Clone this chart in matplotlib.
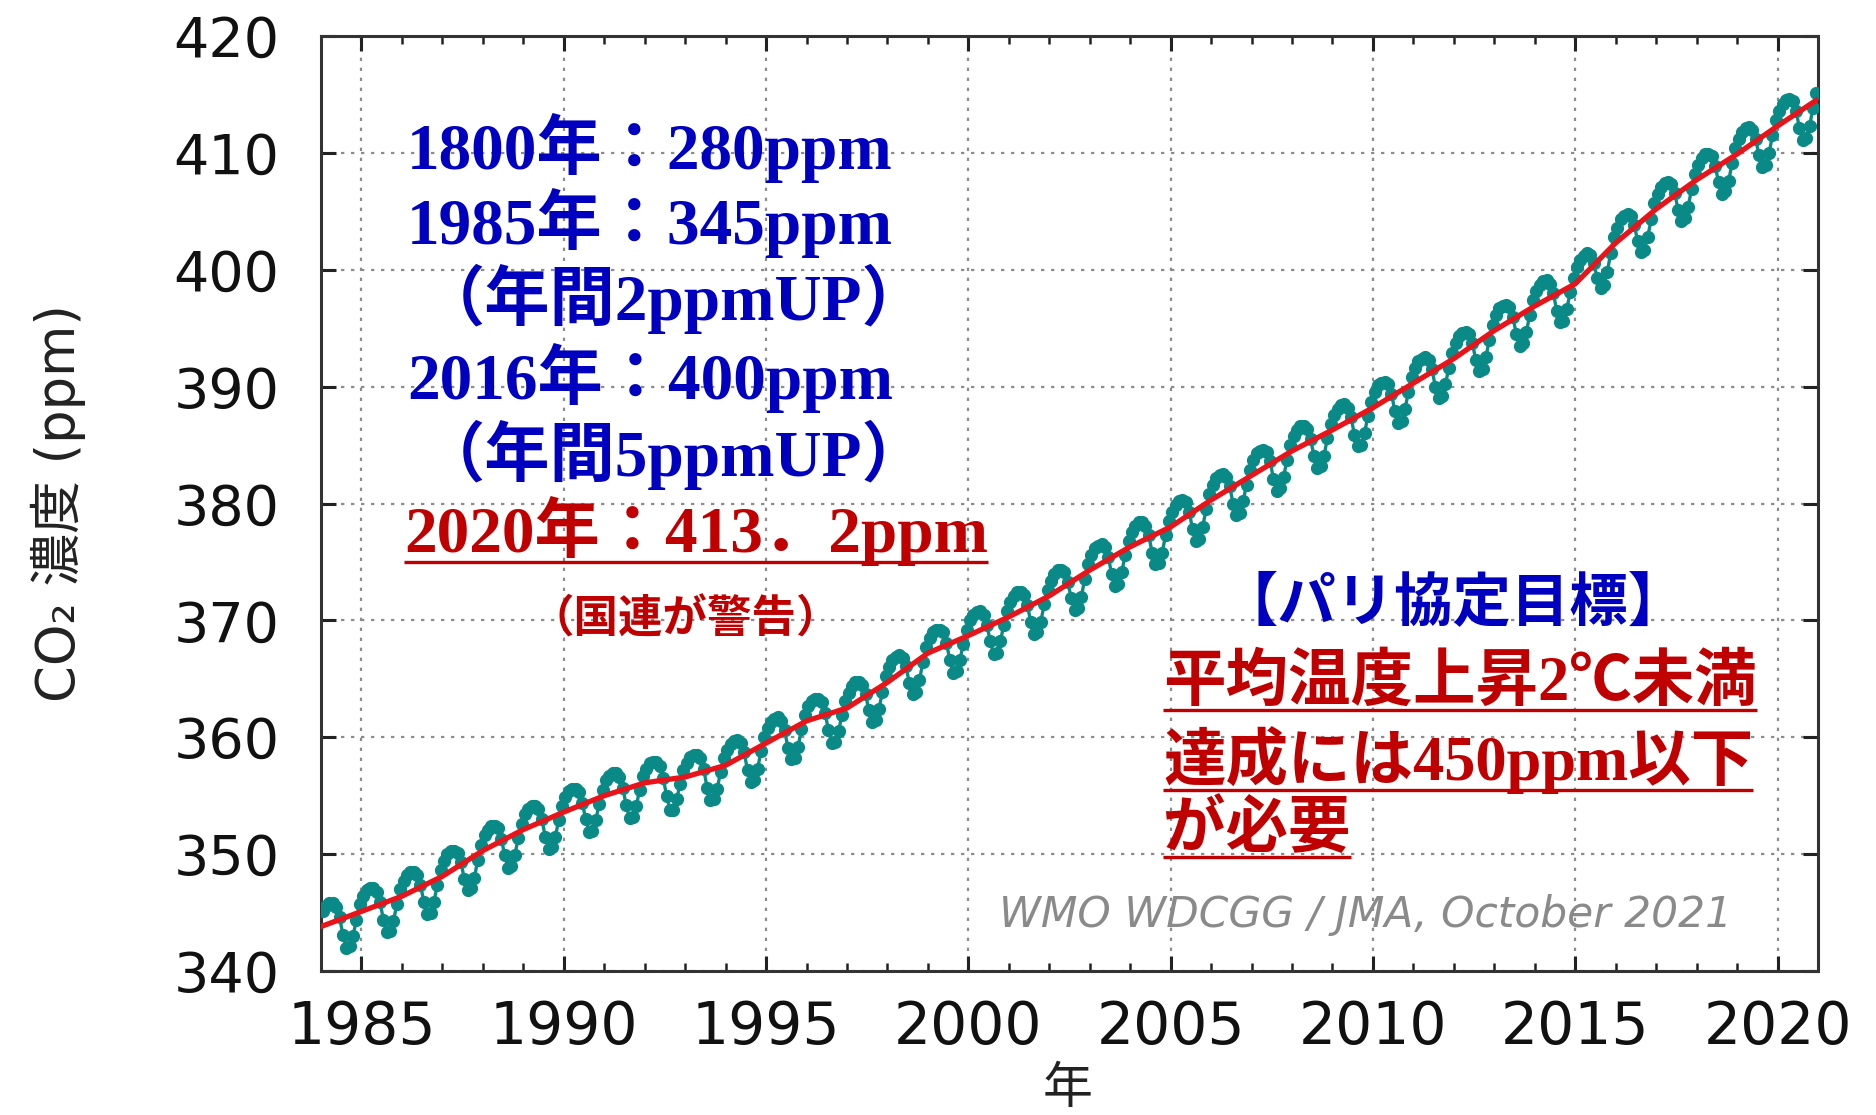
import matplotlib
matplotlib.use("Agg")
import matplotlib.pyplot as plt
from matplotlib.ticker import MultipleLocator
from matplotlib.lines import Line2D

# ---------------- data ----------------
years = list(range(1984, 2021))
monthly_ppm = [
    [345.1, 345.6, 345.8, 345.8, 345.5, 344.6, 343.1, 342.0, 342.1, 343.0, 344.4, 345.7],  # 1984
    [346.4, 346.9, 347.1, 347.1, 346.8, 345.9, 344.4, 343.3, 343.4, 344.3, 345.7, 347.0],  # 1985
    [347.7, 348.2, 348.5, 348.5, 348.2, 347.4, 345.9, 344.9, 345.0, 345.9, 347.4, 348.6],  # 1986
    [349.4, 350.0, 350.3, 350.3, 350.1, 349.3, 347.9, 346.9, 347.1, 348.0, 349.5, 350.8],  # 1987
    [351.6, 352.1, 352.4, 352.4, 352.2, 351.3, 349.9, 348.8, 349.0, 349.9, 351.4, 352.6],  # 1988
    [353.4, 353.9, 354.1, 354.1, 353.9, 353.0, 351.5, 350.4, 350.6, 351.5, 352.9, 354.1],  # 1989
    [354.9, 355.4, 355.6, 355.6, 355.3, 354.4, 353.0, 351.9, 352.0, 352.9, 354.3, 355.5],  # 1990
    [356.3, 356.7, 356.9, 356.9, 356.6, 355.7, 354.2, 353.1, 353.2, 354.1, 355.5, 356.7],  # 1991
    [357.3, 357.8, 357.9, 357.9, 357.5, 356.5, 355.0, 353.8, 353.8, 354.7, 356.0, 357.2],  # 1992
    [357.8, 358.3, 358.5, 358.5, 358.2, 357.3, 355.7, 354.6, 354.7, 355.6, 357.0, 358.2],  # 1993
    [358.9, 359.4, 359.7, 359.8, 359.5, 358.7, 357.2, 356.2, 356.3, 357.3, 358.8, 360.0],  # 1994
    [360.8, 361.3, 361.6, 361.7, 361.4, 360.6, 359.1, 358.1, 358.2, 359.2, 360.7, 361.9],  # 1995
    [362.7, 363.1, 363.3, 363.3, 363.0, 362.1, 360.6, 359.5, 359.6, 360.5, 361.9, 363.1],  # 1996
    [363.8, 364.4, 364.7, 364.7, 364.5, 363.7, 362.3, 361.3, 361.5, 362.4, 363.9, 365.2],  # 1997
    [366.0, 366.6, 366.9, 367.0, 366.8, 366.1, 364.6, 363.7, 363.9, 364.9, 366.4, 367.7],  # 1998
    [368.5, 369.0, 369.2, 369.2, 369.0, 368.1, 366.6, 365.5, 365.7, 366.6, 368.0, 369.2],  # 1999
    [370.0, 370.5, 370.7, 370.8, 370.5, 369.6, 368.2, 367.1, 367.2, 368.2, 369.6, 370.8],  # 2000
    [371.6, 372.1, 372.4, 372.4, 372.2, 371.3, 369.9, 368.8, 369.0, 369.9, 371.4, 372.6],  # 2001
    [373.4, 374.0, 374.3, 374.3, 374.1, 373.3, 371.9, 370.9, 371.1, 372.0, 373.5, 374.8],  # 2002
    [375.6, 376.2, 376.4, 376.5, 376.3, 375.4, 374.0, 372.9, 373.1, 374.1, 375.6, 376.8],  # 2003
    [377.6, 378.1, 378.4, 378.4, 378.1, 377.3, 375.8, 374.8, 374.9, 375.8, 377.3, 378.5],  # 2004
    [379.3, 379.9, 380.2, 380.3, 380.1, 379.3, 377.8, 376.8, 377.0, 378.0, 379.5, 380.8],  # 2005
    [381.6, 382.2, 382.4, 382.5, 382.3, 381.5, 380.0, 379.0, 379.2, 380.2, 381.6, 382.9],  # 2006
    [383.7, 384.3, 384.5, 384.6, 384.4, 383.6, 382.1, 381.1, 381.3, 382.3, 383.7, 385.0],  # 2007
    [385.8, 386.3, 386.6, 386.6, 386.4, 385.5, 384.1, 383.0, 383.2, 384.1, 385.6, 386.8],  # 2008
    [387.6, 388.1, 388.4, 388.5, 388.2, 387.4, 385.9, 384.9, 385.0, 386.0, 387.5, 388.7],  # 2009
    [389.5, 390.1, 390.3, 390.4, 390.2, 389.4, 387.9, 386.9, 387.1, 388.1, 389.5, 390.8],  # 2010
    [391.6, 392.2, 392.4, 392.5, 392.3, 391.5, 390.0, 389.0, 389.2, 390.2, 391.6, 392.9],  # 2011
    [393.7, 394.3, 394.6, 394.7, 394.5, 393.7, 392.3, 391.3, 391.5, 392.5, 394.0, 395.3],  # 2012
    [396.1, 396.7, 396.9, 397.0, 396.8, 396.0, 394.5, 393.5, 393.7, 394.7, 396.1, 397.4],  # 2013
    [398.2, 398.7, 399.0, 399.1, 398.8, 398.0, 396.5, 395.5, 395.6, 396.6, 398.1, 399.3],  # 2014
    [400.2, 400.8, 401.2, 401.4, 401.3, 400.6, 399.3, 398.4, 398.7, 399.8, 401.4, 402.8],  # 2015
    [403.6, 404.3, 404.6, 404.8, 404.6, 403.8, 402.5, 401.5, 401.7, 402.8, 404.3, 405.7],  # 2016
    [406.5, 407.1, 407.4, 407.5, 407.3, 406.6, 405.1, 404.2, 404.4, 405.4, 406.9, 408.2],  # 2017
    [409.0, 409.6, 409.9, 409.9, 409.7, 408.9, 407.5, 406.5, 406.7, 407.6, 409.1, 410.4],  # 2018
    [411.2, 411.8, 412.1, 412.2, 412.0, 411.2, 409.8, 408.8, 409.0, 410.0, 411.5, 412.8],  # 2019
    [413.6, 414.2, 414.5, 414.6, 414.4, 413.6, 412.1, 411.1, 411.3, 412.3, 413.8, 415.1],  # 2020
]
trend_years = list(range(1984, 2022))
trend_ppm = [343.8, 345.1, 346.4, 348.1, 350.3, 352.1, 353.6, 355.0, 356.1, 356.6,
             357.6, 359.5, 361.4, 362.5, 364.7, 367.2, 368.7, 370.3, 372.1, 374.3,
             376.3, 378.0, 380.3, 382.4, 384.5, 386.3, 388.2, 390.3, 392.4, 394.8,
             396.9, 398.8, 402.3, 405.2, 407.7, 409.9, 412.3, 414.6]
x_ticks = [1985, 1990, 1995, 2000, 2005, 2010, 2015, 2020]
y_ticks = [340, 350, 360, 370, 380, 390, 400, 410, 420]

left_lines = ["1800年：280ppm", "1985年：345ppm", "（年間2ppmUP）",
              "2016年：400ppm", "（年間5ppmUP）"]
red_line = "2020年：413．2ppm"
warn_line = "（国連が警告）"
paris_title = "【パリ協定目標】"
paris_lines = ["平均温度上昇2℃未満", "達成には450ppm以下", "が必要"]
credit = "WMO WDCGG / JMA, October 2021"
y_label = "CO₂ 濃度 (ppm)"
x_label = "年"

# ---------------- figure ----------------
W, H = 1876, 1115
fig = plt.figure(figsize=(W / 100, H / 100), dpi=100)
fig.patch.set_facecolor("white")
L, R, T, B = 321, 1818, 36, 971
ax = fig.add_axes([L / W, 1 - B / H, (R - L) / W, (B - T) / H])

mx, my = [], []
for yr, vals in zip(years, monthly_ppm):
    for m, v in enumerate(vals):
        mx.append(yr + (m + 0.5) / 12)
        my.append(v)

ax.plot(mx, my, "-o", color="#0a8a86", lw=2.4, ms=8.5, mec="#0a8a86", zorder=3)
ax.plot(trend_years, trend_ppm, "-", color="#e8141a", lw=3.8, zorder=4,
        solid_capstyle="round", solid_joinstyle="round")

ax.set_xlim(1984, 2021)
ax.set_ylim(340, 420)
ax.set_xticks(x_ticks)
ax.set_yticks(y_ticks)
ax.xaxis.set_minor_locator(MultipleLocator(1))
ax.grid(True, which="major", color="#8c8c8c", lw=1.6, ls=(0, (1.5, 3)))
ax.set_axisbelow(True)

for s in ax.spines.values():
    s.set_linewidth(2.2)
    s.set_color("#333333")
ax.tick_params(which="major", direction="in", length=11, width=2.2, color="#222222",
               top=True, right=True)
ax.tick_params(which="minor", direction="in", length=6, width=1.8, color="#222222",
               top=True)
ax.tick_params(axis="y", which="major", pad=30, labelsize=40, labelcolor="#111111")
ax.tick_params(axis="x", which="major", pad=20, labelsize=42, labelcolor="#111111")
for lab in ax.get_xticklabels() + ax.get_yticklabels():
    lab.set_fontfamily("DejaVu Sans")

ax.set_ylabel(y_label, fontsize=38, color="#222222",
              family=["DejaVu Sans", "Noto Sans CJK JP"])
ax.yaxis.set_label_coords(-0.157, 0.5)
ax.set_xlabel(x_label, fontsize=36, color="#222222",
              family=["Noto Sans CJK JP", "DejaVu Sans"])
ax.xaxis.set_label_coords(0.499, -0.098)

fig.text(999 / W, 1 - 915 / H, credit, fontsize=30.5, style="italic", color="#8a8a8a",
         family="DejaVu Sans", ha="left", va="center")

# ---------------- annotations ----------------
BLUE = "#0000c0"
RED = "#c00000"
fam = ["Liberation Serif", "Noto Sans CJK JP"]


def ftext(px, py, s, color, size, ha="left"):
    return fig.text(px / W, 1 - py / H, s, color=color, fontsize=size,
                    fontweight="bold", family=fam, ha=ha, va="center")


left_pos = [(407, 148), (407, 223), (420, 299), (407, 378), (420, 455)]
for (px, py), s in zip(left_pos, left_lines):
    ftext(px, py, s, BLUE, 47)
t_red = ftext(404, 531, red_line, RED, 47)
ftext(530, 620, warn_line, RED, 32)

ftext(1220, 604, paris_title, BLUE, 42)
t_p = []
for py, s in zip([684, 760, 831], paris_lines):
    t_p.append(ftext(1163, py, s, RED, 45))

fig.canvas.draw()
rend = fig.canvas.get_renderer()


def underline(t, color, lw, dy):
    bb = t.get_window_extent(renderer=rend)
    y = bb.y0 + dy
    fig.add_artist(Line2D([bb.x0, bb.x1], [y, y], transform=None, color=color,
                          lw=lw, solid_capstyle="butt"))


underline(t_red, RED, 2.4, 4)
for t in t_p:
    underline(t, RED, 2.4, 4)

fig.savefig("out.png", dpi=100, facecolor="white")
